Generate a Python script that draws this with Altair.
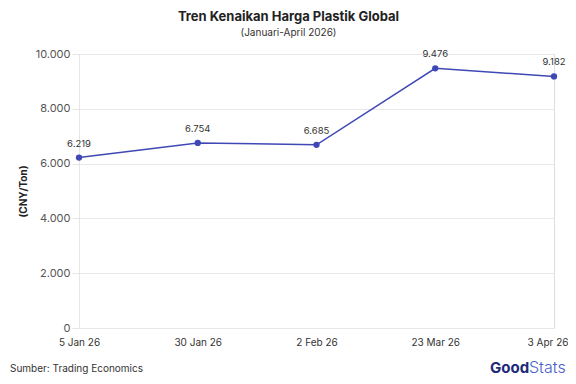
import altair as alt
import pandas as pd

tanggal = ["5 Jan 26", "30 Jan 26", "2 Feb 26", "23 Mar 26", "3 Apr 26"]
harga = [6219, 6754, 6685, 9476, 9182]
y_ticks = [0, 2000, 4000, 6000, 8000, 10000]

df = pd.DataFrame({"tanggal": tanggal, "harga": harga})

FONT = "Inter"
LINE = "#3f48b5"
LAST = tanggal[-1]

x_enc = alt.X("tanggal:N", sort=tanggal, title=None,
              scale=alt.Scale(type="point", padding=0),
              axis=alt.Axis(labelAngle=0, labelFontSize=10, labelColor="#333333",
                            labelFont=FONT, ticks=False, domain=False, grid=False,
                            labelPadding=9,
                            labelAlign={"condition": {"test": f"datum.label == '{LAST}'",
                                                      "value": "right"},
                                        "value": "center"},
                            labelOffset={"condition": {"test": f"datum.label == '{LAST}'",
                                                       "value": 14},
                                         "value": 0}))
y_enc = alt.Y("harga:Q", title="(CNY/Ton)",
              scale=alt.Scale(domain=[0, 10000], nice=False),
              axis=alt.Axis(values=y_ticks, labelFontSize=11, labelColor="#555555",
                            labelFont=FONT, tickSize=7, tickColor="#e6e6e6",
                            gridColor="#e8e8e8", domainColor="#e6e6e6",
                            labelPadding=2, titleFont=FONT, titleFontSize=10,
                            titleFontWeight="bold", titleColor="#222222",
                            titlePadding=7,
                            labelExpr="replace(format(datum.value, ','), ',', '.')"))

base = alt.Chart(df).encode(x=x_enc, y=y_enc)

line = base.mark_line(color=LINE, strokeWidth=1.5)
pts = base.mark_circle(color=LINE, size=40, opacity=1)
labels = base.mark_text(dy=-9, baseline="bottom", fontSize=9.5, color="#333333",
                        font=FONT).transform_calculate(
    lbl="replace(format(datum.harga, ','), ',', '.')").encode(text="lbl:N")

one = pd.DataFrame({"k": [0]})
source = alt.Chart(one).mark_text(text="Sumber: Trading Economics", align="left",
                                   baseline="alphabetic", fontSize=10,
                                   color="#333333", font=FONT).encode(
    x=alt.value(-69), y=alt.value(318))
good = alt.Chart(one).mark_text(text="Good", align="left", baseline="alphabetic",
                                fontSize=15, fontWeight="bold", color="#1e2a78",
                                font=FONT).encode(x=alt.value(411), y=alt.value(319))
stats = alt.Chart(one).mark_text(text="Stats", align="left", baseline="alphabetic",
                                 fontSize=16, fontWeight=300, color="#4a5fc7",
                                 font=FONT).encode(x=alt.value(450), y=alt.value(319))

chart = alt.layer(line, pts, labels, source, good, stats).properties(
    width=475, height=274,
    title=alt.Title("Tren Kenaikan Harga Plastik Global",
                    subtitle="(Januari-April 2026)",
                    anchor="middle", dx=-28, offset=10,
                    font=FONT, fontSize=13, fontWeight="bold", color="#222222",
                    subtitleFont=FONT, subtitleFontSize=10, subtitleColor="#333333",
                    subtitlePadding=4),
    autosize=alt.AutoSizeParams(type="none"),
    padding={"left": 71, "top": 46, "right": 14, "bottom": 48},
).configure_view(stroke=None).configure(background="white")

chart.save("out.html", embed_options={"renderer": "svg", "actions": False})
